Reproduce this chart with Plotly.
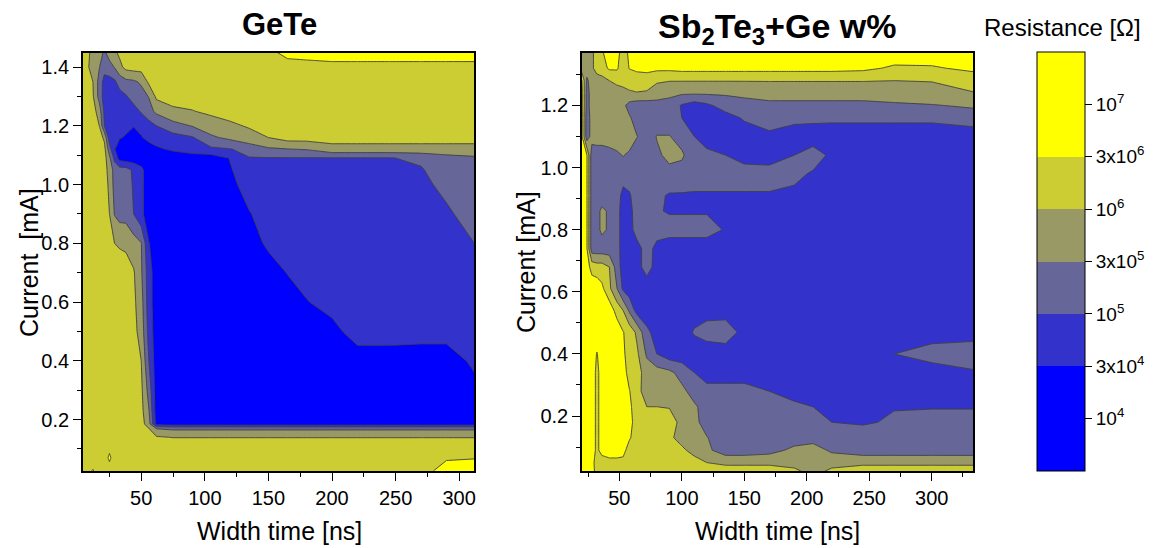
import numpy as np
import plotly.graph_objects as go

FONT = "Liberation Sans, Arial, sans-serif"

# ---------------- GeTe panel data: log10(Resistance / Ohm) ----------------
gete_width_ns = [4, 12, 17, 21, 25, 29, 33, 38, 44, 50, 56, 62, 75, 90, 105, 120, 135, 150,
                 165, 180, 200, 220, 245, 270, 290, 312]
gete_current_mA = [0.025, 0.07, 0.12, 0.14, 0.17, 0.185, 0.23, 0.30, 0.40, 0.50, 0.60, 0.70,
                   0.80, 0.90, 1.00, 1.05, 1.09, 1.12, 1.16, 1.20, 1.25, 1.30, 1.35, 1.40, 1.45]
gete_logR = [
    [6.2, 6.52, 6.2, 6.2, 6.2, 6.2, 6.2, 6.2, 6.2, 6.2, 6.2, 6.2, 6.2, 6.2, 6.2, 6.2, 6.2, 6.2, 6.2, 6.2, 6.2, 6.2, 6.2, 6.2, 6.8, 6.8],
    [6.2, 6.2, 6.2, 6.2, 6.6, 6.2, 6.2, 6.2, 6.2, 6.2, 6.2, 6.2, 6.2, 6.2, 6.2, 6.2, 6.2, 6.2, 6.2, 6.2, 6.2, 6.2, 6.2, 6.2, 6.4, 6.45],
    [6.2, 6.2, 6.2, 6.2, 6.2, 6.2, 6.2, 6.2, 6.2, 6.2, 6.2, 6.2, 6.2, 6.2, 6.2, 6.2, 6.2, 6.2, 6.2, 6.2, 6.2, 6.2, 6.2, 6.2, 6.2, 6.2],
    [6.2, 6.2, 6.2, 6.2, 6.2, 6.2, 6.2, 6.2, 6.2, 6.2, 6.2, 6.05, 5.98, 5.98, 5.98, 5.98, 5.98, 5.98, 5.98, 5.98, 5.98, 5.98, 5.98, 5.98, 5.98, 5.98],
    [6.2, 6.2, 6.2, 6.2, 6.2, 6.2, 6.2, 6.2, 6.2, 6.2, 6.0, 5.45, 5.38, 5.38, 5.38, 5.38, 5.38, 5.38, 5.38, 5.38, 5.38, 5.38, 5.38, 5.38, 5.38, 5.38],
    [6.2, 6.2, 6.2, 6.2, 6.2, 6.2, 6.2, 6.2, 6.2, 6.2, 5.7, 4.3, 4.19, 4.19, 4.19, 4.19, 4.19, 4.19, 4.19, 4.19, 4.19, 4.19, 4.19, 4.19, 4.19, 4.19],
    [6.2, 6.2, 6.2, 6.2, 6.2, 6.2, 6.2, 6.2, 6.2, 6.15, 5.5, 4.2, 4.2, 4.2, 4.2, 4.2, 4.2, 4.2, 4.2, 4.2, 4.2, 4.2, 4.2, 4.2, 4.2, 4.2],
    [6.2, 6.2, 6.2, 6.2, 6.2, 6.2, 6.2, 6.2, 6.2, 6.1, 5.3, 4.2, 4.2, 4.2, 4.2, 4.2, 4.2, 4.2, 4.2, 4.2, 4.2, 4.2, 4.2, 4.2, 4.2, 4.3],
    [6.2, 6.2, 6.2, 6.2, 6.2, 6.2, 6.2, 6.2, 6.2, 6.0, 5.0, 4.2, 4.2, 4.2, 4.2, 4.2, 4.2, 4.2, 4.2, 4.2, 4.2, 4.2, 4.2, 4.2, 4.2, 4.6],
    [6.2, 6.2, 6.2, 6.2, 6.2, 6.2, 6.2, 6.2, 6.15, 5.8, 4.8, 4.2, 4.2, 4.2, 4.2, 4.2, 4.2, 4.2, 4.2, 4.2, 4.3, 4.75, 4.75, 4.7, 4.7, 4.75],
    [6.2, 6.2, 6.2, 6.2, 6.2, 6.2, 6.2, 6.2, 6.1, 5.7, 4.7, 4.2, 4.2, 4.2, 4.2, 4.2, 4.2, 4.2, 4.2, 4.45, 4.7, 4.7, 4.7, 4.7, 4.7, 4.7],
    [6.2, 6.2, 6.2, 6.2, 6.2, 6.2, 6.2, 6.2, 6.05, 5.55, 4.7, 4.2, 4.2, 4.2, 4.2, 4.2, 4.2, 4.2, 4.5, 4.7, 4.7, 4.7, 4.7, 4.7, 4.7, 4.7],
    [6.2, 6.2, 6.2, 6.2, 6.1, 6.0, 5.95, 5.9, 5.7, 5.5, 4.5, 4.2, 4.2, 4.2, 4.2, 4.2, 4.2, 4.6, 4.7, 4.7, 4.7, 4.7, 4.7, 4.7, 4.75, 5.0],
    [6.2, 6.2, 6.2, 6.2, 6.0, 5.45, 5.3, 5.3, 5.0, 4.6, 4.2, 4.2, 4.2, 4.2, 4.2, 4.2, 4.45, 4.7, 4.7, 4.7, 4.7, 4.7, 4.7, 4.7, 4.9, 5.25],
    [6.2, 6.2, 6.2, 6.2, 5.9, 5.3, 5.2, 5.2, 4.95, 4.6, 4.2, 4.2, 4.2, 4.2, 4.2, 4.35, 4.7, 4.7, 4.7, 4.7, 4.7, 4.7, 4.7, 4.85, 5.15, 5.35],
    [6.2, 6.2, 6.2, 6.2, 5.8, 5.3, 5.2, 5.2, 4.9, 4.6, 4.2, 4.2, 4.2, 4.2, 4.2, 4.45, 4.7, 4.7, 4.7, 4.7, 4.7, 4.7, 4.7, 4.95, 5.3, 5.4],
    [6.2, 6.2, 6.2, 6.2, 5.6, 4.85, 4.3, 4.2, 4.2, 4.2, 4.2, 4.2, 4.2, 4.2, 4.2, 4.5, 4.97, 4.97, 4.97, 4.97, 4.97, 4.97, 4.97, 5.1, 5.3, 5.4],
    [6.2, 6.2, 6.2, 6.15, 5.2, 4.5, 4.3, 4.3, 4.25, 4.25, 4.3, 4.4, 4.55, 4.75, 4.9, 4.97, 5.2, 5.4, 5.45, 5.5, 5.8, 5.8, 5.8, 5.8, 5.8, 5.8],
    [6.2, 6.2, 6.2, 5.9, 4.7, 4.55, 4.5, 4.45, 4.3, 4.45, 4.6, 4.7, 4.8, 4.95, 5.4, 5.6, 5.8, 6.0, 6.2, 6.2, 6.2, 6.2, 6.2, 6.2, 6.2, 6.2],
    [6.2, 6.2, 6.0, 5.0, 4.7, 4.65, 4.6, 4.55, 4.5, 4.6, 4.8, 5.0, 5.3, 5.5, 5.75, 5.9, 6.05, 6.2, 6.2, 6.2, 6.2, 6.2, 6.2, 6.2, 6.2, 6.2],
    [6.2, 6.2, 5.75, 4.9, 4.7, 4.65, 4.65, 4.7, 4.8, 5.05, 5.3, 5.6, 5.9, 5.98, 6.1, 6.2, 6.2, 6.2, 6.2, 6.2, 6.2, 6.2, 6.2, 6.2, 6.2, 6.2],
    [6.2, 6.05, 5.3, 4.75, 4.7, 4.7, 4.8, 4.95, 5.2, 5.3, 5.5, 6.1, 6.2, 6.2, 6.2, 6.2, 6.2, 6.2, 6.2, 6.2, 6.2, 6.2, 6.2, 6.2, 6.2, 6.2],
    [6.2, 6.0, 5.3, 4.8, 4.8, 4.9, 5.2, 5.35, 5.4, 5.55, 6.1, 6.2, 6.2, 6.2, 6.2, 6.2, 6.2, 6.2, 6.2, 6.2, 6.2, 6.2, 6.2, 6.2, 6.2, 6.2],
    [6.2, 5.85, 5.5, 5.2, 5.3, 5.5, 5.85, 6.15, 6.2, 6.2, 6.2, 6.2, 6.2, 6.2, 6.2, 6.2, 6.2, 6.2, 6.2, 6.2, 6.3, 6.3, 6.3, 6.3, 6.3, 6.3],
    [6.2, 5.9, 5.7, 5.4, 5.7, 5.9, 6.1, 6.2, 6.2, 6.2, 6.2, 6.2, 6.2, 6.2, 6.2, 6.2, 6.2, 6.3, 6.7, 6.8, 6.8, 6.8, 6.8, 6.8, 6.8, 6.8],
]

# ------------- Sb2Te3+Ge panel data: log10(Resistance / Ohm) -------------
sbte_width_ns = [20, 24, 28, 32, 36, 42, 48, 53, 58, 64, 72, 80, 90, 100, 110, 120, 135, 150,
                 170, 190, 205, 220, 245, 270, 300, 334]
sbte_current_mA = [0.023, 0.05, 0.09, 0.13, 0.18, 0.23, 0.28, 0.34, 0.40, 0.47, 0.54, 0.61, 0.68,
                   0.74, 0.80, 0.86, 0.91, 0.98, 1.04, 1.10, 1.16, 1.20, 1.24, 1.28, 1.32, 1.37]
sbte_logR = [
    [6.8, 6.8, 6.8, 6.2, 6.2, 6.2, 6.2, 6.2, 6.2, 6.2, 6.2, 6.2, 6.2, 6.2, 6.2, 6.2, 6.2, 6.2, 6.2, 6.1, 5.8, 6.1, 6.2, 6.2, 6.2, 6.2],
    [6.8, 6.8, 6.7, 6.2, 6.2, 6.3, 6.3, 6.3, 6.2, 6.2, 6.2, 6.2, 6.2, 6.2, 6.2, 6.0, 5.9, 5.9, 5.9, 5.8, 5.7, 5.8, 5.9, 5.9, 5.9, 5.9],
    [6.8, 6.8, 6.8, 6.35, 6.7, 6.8, 6.8, 6.7, 6.2, 6.2, 6.2, 6.2, 6.2, 6.1, 5.8, 5.6, 5.2, 5.2, 5.3, 5.6, 5.7, 5.4, 5.2, 5.2, 5.2, 5.2],
    [6.8, 6.8, 6.8, 6.35, 6.7, 6.8, 6.8, 6.8, 6.55, 6.2, 6.2, 6.2, 6.1, 5.8, 5.7, 5.5, 5.2, 5.2, 5.2, 5.25, 5.3, 5.2, 5.2, 5.2, 5.2, 5.2],
    [6.8, 6.8, 6.8, 6.35, 6.7, 6.8, 6.8, 6.8, 6.7, 6.2, 6.2, 6.2, 6.15, 5.9, 5.6, 5.3, 5.2, 5.2, 5.2, 5.15, 5.1, 5.0, 4.95, 5.05, 5.1, 5.1],
    [6.8, 6.8, 6.8, 6.35, 6.7, 6.8, 6.8, 6.8, 6.6, 6.2, 6.0, 6.0, 5.98, 5.75, 5.55, 5.3, 5.2, 5.2, 5.2, 5.1, 5.0, 4.75, 4.7, 4.98, 4.98, 4.98],
    [6.8, 6.8, 6.8, 6.35, 6.7, 6.8, 6.8, 6.8, 6.5, 6.2, 5.7, 5.7, 5.7, 5.6, 5.3, 5.2, 5.2, 5.2, 5.0, 4.8, 4.7, 4.7, 4.7, 4.7, 4.7, 4.7],
    [6.8, 6.8, 6.8, 6.35, 6.7, 6.8, 6.8, 6.7, 6.3, 6.2, 5.75, 5.7, 5.6, 5.3, 5.0, 4.7, 4.7, 4.7, 4.7, 4.7, 4.7, 4.7, 4.7, 4.7, 4.75, 4.95],
    [6.8, 6.8, 6.8, 6.45, 6.7, 6.8, 6.75, 6.6, 6.2, 6.1, 5.4, 5.0, 4.7, 4.7, 4.7, 4.7, 4.7, 4.9, 4.7, 4.7, 4.7, 4.7, 4.7, 5.0, 5.2, 5.25],
    [6.8, 6.8, 6.8, 6.8, 6.75, 6.8, 6.8, 6.5, 6.3, 5.9, 5.1, 4.8, 4.7, 4.7, 5.05, 5.2, 5.3, 4.8, 4.7, 4.7, 4.7, 4.7, 4.7, 4.7, 4.75, 4.8],
    [6.8, 6.8, 6.8, 6.8, 6.8, 6.8, 6.3, 6.0, 5.4, 4.8, 4.7, 4.7, 4.7, 4.7, 4.75, 4.8, 4.75, 4.7, 4.7, 4.7, 4.7, 4.7, 4.7, 4.7, 4.7, 4.7],
    [6.8, 6.8, 6.8, 6.8, 6.6, 6.1, 5.5, 4.9, 4.7, 4.7, 4.7, 4.7, 4.7, 4.7, 4.7, 4.7, 4.7, 4.7, 4.7, 4.7, 4.7, 4.7, 4.7, 4.7, 4.7, 4.7],
    [6.8, 6.7, 6.3, 6.2, 6.2, 6.0, 5.25, 4.75, 4.7, 4.8, 5.2, 4.8, 4.7, 4.7, 4.7, 4.7, 4.7, 4.7, 4.7, 4.7, 4.7, 4.7, 4.7, 4.7, 4.7, 4.7],
    [6.8, 6.5, 5.2, 5.2, 5.2, 5.2, 5.2, 4.75, 4.7, 4.8, 5.2, 4.85, 4.7, 4.7, 4.7, 4.7, 4.7, 4.7, 4.7, 4.7, 4.7, 4.7, 4.7, 4.7, 4.7, 4.7],
    [6.8, 6.5, 5.2, 5.3, 5.6, 5.4, 5.2, 4.75, 4.8, 5.2, 5.2, 5.2, 5.2, 5.2, 5.2, 5.2, 4.95, 4.7, 4.7, 4.7, 4.7, 4.7, 4.7, 4.7, 4.7, 4.7],
    [6.8, 6.5, 5.2, 5.3, 5.6, 5.4, 5.2, 4.75, 4.85, 5.2, 5.2, 5.05, 4.95, 4.95, 4.95, 4.95, 4.8, 4.7, 4.7, 4.7, 4.7, 4.7, 4.7, 4.7, 4.7, 4.7],
    [6.8, 6.5, 5.2, 5.2, 5.2, 5.2, 5.2, 4.85, 4.95, 5.2, 5.2, 5.1, 4.95, 4.95, 4.95, 4.95, 4.95, 4.95, 4.95, 4.9, 4.7, 4.7, 4.7, 4.7, 4.7, 4.7],
    [6.8, 6.5, 5.2, 5.2, 5.2, 5.2, 5.2, 5.2, 5.2, 5.2, 5.2, 5.3, 5.35, 5.3, 5.2, 5.2, 5.2, 5.2, 5.2, 5.1, 4.95, 4.7, 4.7, 4.7, 4.7, 4.7],
    [6.8, 6.5, 5.2, 5.2, 5.2, 5.3, 5.4, 5.5, 5.4, 5.2, 5.2, 5.4, 5.6, 5.55, 5.2, 5.1, 5.0, 4.8, 4.75, 5.0, 5.2, 4.9, 4.7, 4.7, 4.7, 4.7],
    [6.55, 5.2, 5.7, 5.75, 5.75, 5.75, 5.75, 5.75, 5.75, 5.5, 5.2, 5.5, 5.5, 5.3, 5.0, 4.8, 4.75, 4.75, 4.95, 4.8, 4.75, 4.7, 4.7, 4.7, 4.7, 4.7],
    [6.6, 5.2, 5.7, 5.75, 5.75, 5.75, 5.75, 5.7, 5.55, 5.25, 5.2, 5.2, 5.2, 5.0, 4.75, 4.75, 4.8, 5.05, 5.1, 5.1, 5.1, 5.1, 5.1, 5.1, 5.1, 5.25],
    [6.6, 5.3, 5.7, 5.75, 5.75, 5.75, 5.7, 5.6, 5.3, 5.2, 5.2, 5.25, 5.3, 4.95, 4.75, 4.9, 5.2, 5.3, 5.35, 5.35, 5.35, 5.35, 5.35, 5.4, 5.45, 5.55],
    [6.6, 5.3, 5.7, 5.75, 5.75, 5.75, 5.8, 5.9, 5.95, 5.98, 5.95, 5.8, 5.6, 5.55, 5.55, 5.55, 5.55, 5.6, 5.7, 5.7, 5.7, 5.7, 5.7, 5.75, 5.8, 5.98],
    [6.5, 5.4, 5.7, 5.75, 5.8, 6.0, 6.1, 6.1, 6.15, 6.2, 6.2, 6.05, 6.02, 6.02, 6.02, 6.02, 6.02, 6.02, 6.02, 6.02, 6.02, 6.02, 6.02, 6.0, 6.02, 6.2],
    [5.7, 5.7, 5.9, 6.2, 6.3, 6.55, 6.55, 6.2, 6.5, 6.6, 6.65, 6.6, 6.6, 6.65, 6.65, 6.65, 6.65, 6.65, 6.65, 6.65, 6.65, 6.65, 6.6, 6.4, 6.42, 6.6],
    [5.7, 5.6, 5.9, 6.2, 6.4, 6.8, 6.7, 6.2, 6.6, 6.8, 6.8, 6.8, 6.8, 6.8, 6.8, 6.8, 6.8, 6.8, 6.8, 6.8, 6.8, 6.8, 6.8, 6.8, 6.8, 6.8],
]

# Resistance levels of the colour scale and their labels
level_log = [4.0, np.log10(3e4), 5.0, np.log10(3e5), 6.0, np.log10(3e6), 7.0]
level_text = ["10<sup>4</sup>", "3x10<sup>4</sup>", "10<sup>5</sup>", "3x10<sup>5</sup>",
              "10<sup>6</sup>", "3x10<sup>6</sup>", "10<sup>7</sup>"]
band_colors = ["#0000FF", "#3333CC", "#666699", "#999966", "#CCCC33", "#FFFF00"]

for rows, xs, ys in [(gete_logR, gete_width_ns, gete_current_mA), (sbte_logR, sbte_width_ns, sbte_current_mA)]:
    assert len(rows) == len(ys), (len(rows), len(ys))
    for r in rows:
        assert len(r) == len(xs), (len(r), len(xs))

# map log10(R) onto equally spaced band index (levels at 1..5)
map_log = [3.0] + level_log + [8.0]
map_idx = [-2, 0, 1, 2, 3, 4, 5, 6, 7]


def to_index(logr):
    return np.interp(np.array(logr, dtype=float), map_log, map_idx)


fill_scale = [[i / 5, c] for i, c in enumerate(band_colors)]
cb_bounds = [0, 0.25, 0.375, 0.5, 0.625, 0.75, 1.0]
cb_scale = []
for i, c in enumerate(band_colors):
    cb_scale.append([cb_bounds[i], c])
    cb_scale.append([cb_bounds[i + 1], c])

# the page body adds an 8 px margin; the figure is shrunk and all positions shifted accordingly
OFF = 8
W, H = 1158 - OFF, 548 - OFF


def px(x):
    return (x - OFF) / W


def py(y):
    return 1 - (y - OFF) / H


contour_common = dict(
    contours=dict(start=1, end=5, size=1, coloring="fill", showlines=True),
    autocontour=False,
    line=dict(color="#404040", width=0.9, smoothing=0),
    colorscale=fill_scale,
    showscale=False,
    hoverinfo="skip",
)

fig = go.Figure()
fig.add_trace(go.Contour(x=gete_width_ns, y=gete_current_mA, z=to_index(gete_logR),
                         xaxis="x", yaxis="y", **contour_common))
fig.add_trace(go.Contour(x=sbte_width_ns, y=sbte_current_mA, z=to_index(sbte_logR),
                         xaxis="x2", yaxis="y2", **contour_common))
# stand-alone colour bar
fig.add_trace(go.Scatter(
    x=[None], y=[None], mode="markers", showlegend=False, hoverinfo="skip",
    marker=dict(color=[0], cmin=-1, cmax=7, colorscale=cb_scale, showscale=True,
                colorbar=dict(x=px(1039), xanchor="left", xpad=0,
                              y=py(52), yanchor="top", ypad=0,
                              len=419, lenmode="pixels", thickness=48, thicknessmode="pixels",
                              outlinecolor="black", outlinewidth=1,
                              tickmode="array", tickvals=[0, 1, 2, 3, 4, 5, 6], ticktext=level_text,
                              ticks="outside", ticklen=7, tickcolor="black",
                              tickfont=dict(size=19, family=FONT, color="black"))),
    xaxis="x", yaxis="y"))

ydom = [py(471), py(53)]
axis_common = dict(showline=True, linecolor="black", linewidth=1.5, mirror=True,
                   ticks="outside", ticklen=8, tickwidth=1.2, tickcolor="black",
                   showgrid=False, zeroline=False,
                   tickfont=dict(size=20, family=FONT, color="black"))

fig.update_layout(
    width=W, height=H, margin=dict(l=0, r=0, t=0, b=0),
    paper_bgcolor="white", plot_bgcolor="white",
    font=dict(family=FONT, color="black"),
    showlegend=False,
    xaxis=dict(domain=[px(83), px(475)], range=[4.1, 311.8], anchor="y",
               tick0=0, dtick=50,
               minor=dict(dtick=25, tick0=0, ticks="outside", ticklen=4, tickcolor="black"),
               **axis_common),
    yaxis=dict(domain=ydom, range=[0.025, 1.448], anchor="x",
               tick0=0, dtick=0.2, tickformat=".1f",
               minor=dict(dtick=0.1, tick0=0, ticks="outside", ticklen=4, tickcolor="black"),
               **axis_common),
    xaxis2=dict(domain=[px(583), px(975)], range=[20.1, 333.3], anchor="y2",
                tick0=0, dtick=50,
                minor=dict(dtick=25, tick0=0, ticks="outside", ticklen=4, tickcolor="black"),
                **axis_common),
    yaxis2=dict(domain=ydom, range=[0.023, 1.369], anchor="x2",
                tick0=0, dtick=0.2, tickformat=".1f",
                minor=dict(dtick=0.1, tick0=0, ticks="outside", ticklen=4, tickcolor="black"),
                **axis_common),
)

ann = [
    dict(text="<b>GeTe</b>", x=px(280), y=py(24), size=31, angle=0),
    dict(text="<b>Sb<sub>2</sub>Te<sub>3</sub>+Ge w%</b>", x=px(778), y=py(29), size=34, angle=0),
    dict(text="Resistance [\u03a9]", x=px(1064), y=py(28), size=24, angle=0),
    dict(text="Width time [ns]", x=px(280), y=py(531), size=25, angle=0),
    dict(text="Width time [ns]", x=px(779), y=py(531), size=25, angle=0),
    dict(text="Current  [mA]", x=px(29), y=py(262), size=25, angle=-90),
    dict(text="Current [mA]", x=px(527), y=py(262), size=25, angle=-90),
]
for a in ann:
    fig.add_annotation(text=a["text"], x=a["x"], y=a["y"], xref="paper", yref="paper",
                       xanchor="center", yanchor="middle", showarrow=False, textangle=a["angle"],
                       font=dict(size=a["size"], family=FONT, color="black"))

fig.write_html("out.html")
